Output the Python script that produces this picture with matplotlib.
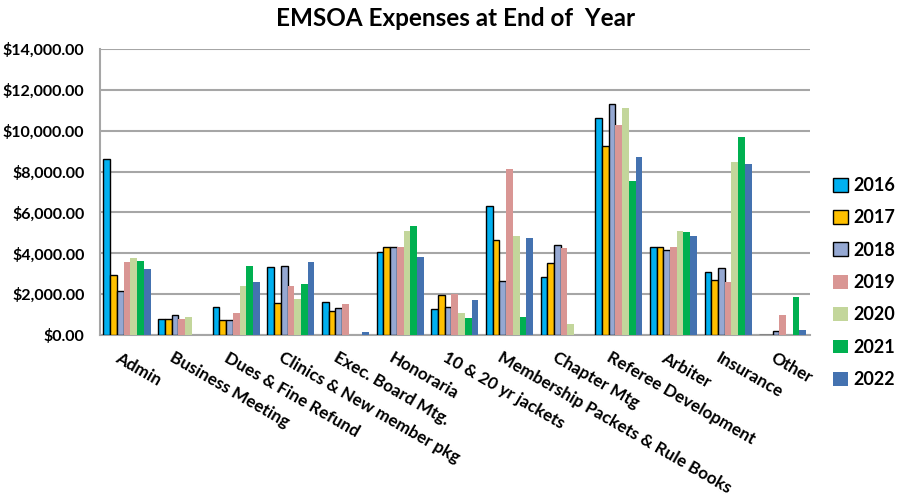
import numpy as np
import matplotlib
matplotlib.use("Agg")
import matplotlib.pyplot as plt
from matplotlib.ticker import FuncFormatter

plt.rcParams['font.family'] = ['Lato', 'DejaVu Sans']

# Категории расходов
categories = [
    'Admin', 'Business Meeting', 'Dues & Fine Refund', 'Clinics & New member pkg',
    'Exec. Board Mtg.', 'Honoraria', '10 & 20 yr jackets',
    'Membership Packets & Rule Books', 'Chapter Mtg', 'Referee Development',
    'Arbiter', 'Insurance', 'Other'
]
years = ['2016', '2017', '2018', '2019', '2020', '2021', '2022']

# Значения по годам (оценка по картинке)
y2016 = [8600, 790, 1390, 3320, 1620, 4070, 1290, 6330, 2830, 10600, 4290, 3060, 0]
y2017 = [2930, 790, 710, 1570, 1170, 4300, 1950, 4660, 3540, 9270, 4290, 2670, 0]
y2018 = [2150, 960, 710, 3360, 1320, 4300, 1370, 2630, 4410, 11330, 4150, 3300, 180]
y2019 = [3590, 760, 1090, 2410, 1520, 4330, 2020, 8150, 4280, 10280, 4330, 2590, 980]
y2020 = [3750, 860, 2410, 1740, 0, 5070, 1070, 4830, 530, 11100, 5110, 8490, 0]
y2021 = [3640, 0, 3370, 2510, 0, 5340, 840, 860, 0, 7530, 5040, 9690, 1840]
y2022 = [3220, 0, 2610, 3550, 170, 3830, 1720, 4760, 0, 8730, 4850, 8390, 260]

series = [y2016, y2017, y2018, y2019, y2020, y2021, y2022]
colors = ['#00B0F0', '#FFC000', '#95A8D2', '#D99694', '#C3D69B', '#00B050', '#4472B0']
edged = [True, True, True, False, False, False, False]

fig = plt.figure(figsize=(8.98, 5.0), dpi=100)
ax = fig.add_axes([0.111, 0.33, 0.791, 0.572])

x = np.arange(len(categories))
bw = 0.123
for i, (vals, col, e) in enumerate(zip(series, colors, edged)):
    offs = (i - 3) * bw
    ax.bar(x + offs, vals, bw, color=col, label=years[i],
           edgecolor='black' if e else col, linewidth=1.0 if e else 0, zorder=3)

ax.set_xlim(-0.5, len(categories) - 0.5)
ax.set_ylim(0, 14000)
ax.set_yticks(np.arange(0, 14001, 2000))
ax.yaxis.set_major_formatter(FuncFormatter(lambda v, p: f'${v:,.2f}'))
ax.grid(axis='y', color='#A6A6A6', linewidth=1.5, zorder=0)
ax.tick_params(axis='y', length=0, labelsize=11.5, pad=11)
for lab in ax.get_yticklabels():
    lab.set_fontweight('bold')

ax.set_xticks(x)
ax.set_xticklabels([])
ax.tick_params(axis='x', length=0)
for xi, name in zip(x, categories):
    ax.text(xi - 0.12, -700, name, rotation=-30, rotation_mode='anchor',
            ha='left', va='top', fontsize=12.3, fontweight='bold')

for s in ['top', 'right']:
    ax.spines[s].set_visible(False)
ax.spines['left'].set_color('#A6A6A6')
ax.spines['bottom'].set_color('#A6A6A6')
ax.spines['left'].set_linewidth(1.5)
ax.spines['bottom'].set_linewidth(1.5)

fig.text(0.507, 0.962, 'EMSOA Expenses at End of  Year', ha='center', va='center',
         fontsize=17.5, fontweight='bold')

leg = fig.legend(loc='center left', bbox_to_anchor=(0.91, 0.435), frameon=False,
                 prop={'size': 13, 'weight': 'bold'}, handlelength=0.8,
                 handleheight=0.8, handletextpad=0.3, labelspacing=0.85)

fig.savefig('out.png', dpi=100)
